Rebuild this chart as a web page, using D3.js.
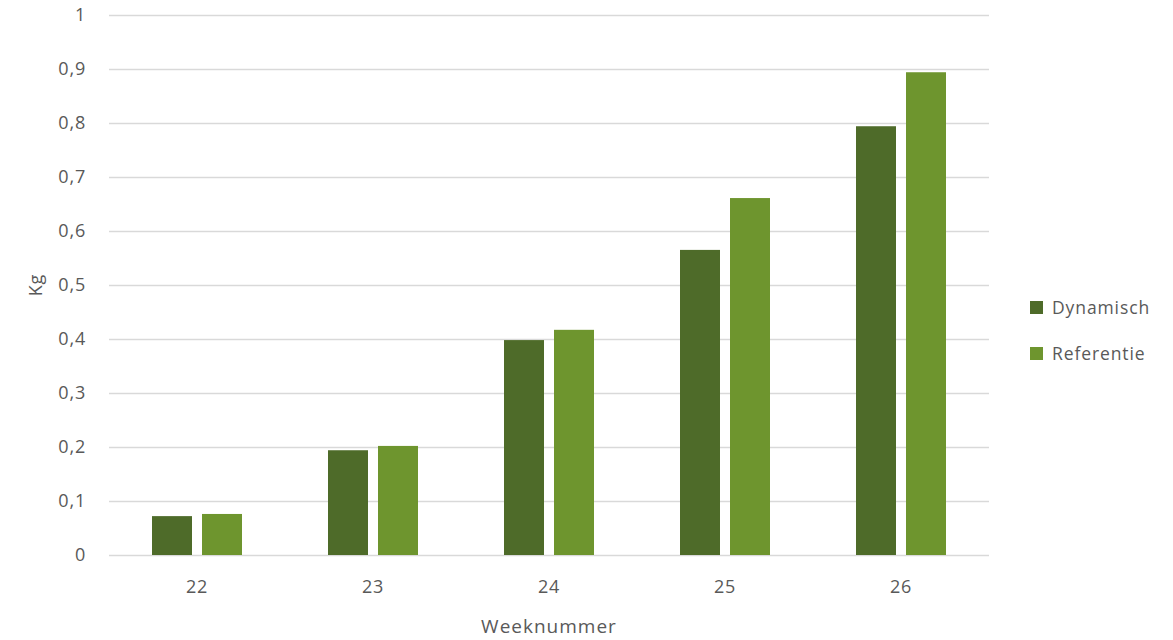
<!DOCTYPE html>
<html><head><meta charset="utf-8">
<script src="https://cdn.jsdelivr.net/npm/d3@7"></script>
<style>body{margin:0;background:#fff}text{font-family:"Open Sans",sans-serif;fill:#595959}</style>
</head><body><svg id="c" width="1173" height="640"></svg>
<script>
const categories = ["22","23","24","25","26"];
const seriesNames = ["Dynamisch","Referentie"];
const dynamisch = [0.072,0.194,0.398,0.565,0.794];
const referentie = [0.076,0.202,0.417,0.661,0.894];
const yTicks = [0,0.1,0.2,0.3,0.4,0.5,0.6,0.7,0.8,0.9,1];
const yTickLabels = ["0","0,1","0,2","0,3","0,4","0,5","0,6","0,7","0,8","0,9","1"];
const colors = ["#4e6b29","#6e952e"];

const svg = d3.select("#c");
const x = d3.scaleBand().domain(categories).range([109,989]).paddingInner(86/176).paddingOuter(43/176);
const x1 = d3.scaleBand().domain(seriesNames).range([0,x.bandwidth()]).paddingInner(0.2).paddingOuter(0);
const y = d3.scaleLinear().domain([0,1]).range([555,15]);

const yAxis = d3.axisLeft(y).tickValues(yTicks).tickSize(-(989-109)).tickFormat((d,i)=>yTickLabels[i]).tickPadding(23);
const gy = svg.append("g").attr("transform","translate(109,0)").call(yAxis);
gy.select(".domain").remove();
gy.selectAll(".tick line").attr("stroke","#d9d9d9").attr("stroke-width",1.4);
gy.selectAll(".tick text").attr("font-size","18px").attr("letter-spacing","0.8px").attr("fill","#595959");

const data = categories.map((c,i)=>({c, vals:[dynamisch[i],referentie[i]]}));
const groups = svg.append("g").selectAll("g").data(data).join("g").attr("transform",d=>`translate(${x(d.c)},0)`);
groups.selectAll("rect").data(d=>d.vals.map((v,j)=>({s:seriesNames[j],v,j}))).join("rect")
  .attr("x",d=>x1(d.s)).attr("width",x1.bandwidth())
  .attr("y",d=>y(d.v)).attr("height",d=>y(0)-y(d.v)).attr("fill",d=>colors[d.j]);

const xAxis = d3.axisBottom(x).tickSize(0).tickPadding(25);
const gx = svg.append("g").attr("transform","translate(0,555)").call(xAxis);
gx.select(".domain").remove();
gx.selectAll(".tick text").attr("font-size","18px").attr("letter-spacing","0.8px").attr("fill","#595959");

svg.append("text").attr("x",549).attr("y",633).attr("text-anchor","middle").attr("font-size","19px").attr("letter-spacing","1px").text("Weeknummer");
svg.append("text").attr("transform","translate(42,285) rotate(-90)").attr("text-anchor","middle").attr("font-size","18px").attr("letter-spacing","0.8px").text("Kg");

const lg = svg.append("g").selectAll("g").data(seriesNames).join("g").attr("transform",(d,i)=>`translate(1030,${301+i*46})`);
lg.append("rect").attr("width",13).attr("height",13).attr("fill",(d,i)=>colors[i]);
lg.append("text").attr("x",22).attr("y",12.5).attr("font-size","17.5px").attr("letter-spacing","0.9px").text(d=>d);
</script></body></html>
